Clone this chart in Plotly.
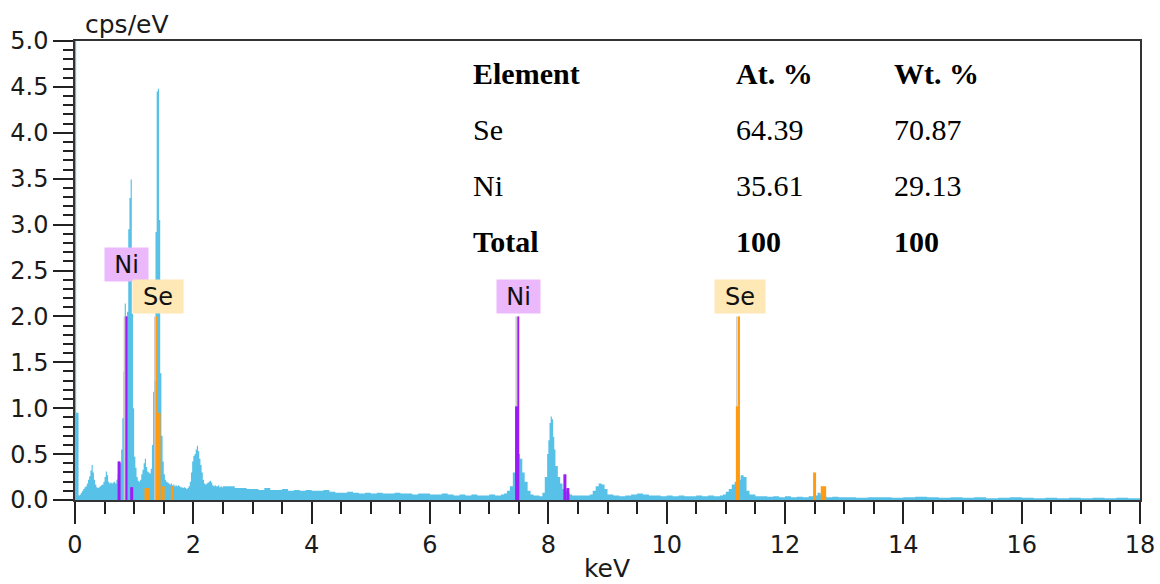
import plotly.graph_objects as go

# ---------------- data ----------------
spectrum_keV = [
    0.00, 0.02, 0.04, 0.06, 0.08, 0.10, 0.12, 0.14, 0.16, 0.18,
    0.20, 0.22, 0.24, 0.26, 0.28, 0.30, 0.32, 0.34, 0.36, 0.38,
    0.40, 0.42, 0.44, 0.46, 0.48, 0.50, 0.52, 0.54, 0.56, 0.58,
    0.60, 0.62, 0.64, 0.66, 0.68, 0.70, 0.72, 0.74, 0.76, 0.78,
    0.80, 0.82, 0.84, 0.86, 0.88, 0.90, 0.92, 0.94, 0.96, 0.98,
    1.00, 1.02, 1.04, 1.06, 1.08, 1.10, 1.12, 1.14, 1.16, 1.18,
    1.20, 1.22, 1.24, 1.26, 1.28, 1.30, 1.32, 1.34, 1.36, 1.38,
    1.40, 1.42, 1.44, 1.46, 1.48, 1.50, 1.52, 1.54, 1.56, 1.58,
    1.60, 1.62, 1.64, 1.66, 1.68, 1.70, 1.72, 1.74, 1.76, 1.78,
    1.80, 1.82, 1.84, 1.86, 1.88, 1.90, 1.92, 1.94, 1.96, 1.98,
    2.00, 2.02, 2.04, 2.06, 2.08, 2.10, 2.12, 2.14, 2.16, 2.18,
    2.20, 2.22, 2.24, 2.26, 2.28, 2.30, 2.32, 2.34, 2.36, 2.38,
    2.40, 2.42, 2.44, 2.46, 2.48, 2.50,
    2.6, 2.7, 2.8, 2.9, 3.0, 3.1, 3.2, 3.3, 3.4, 3.5,
    3.6, 3.7, 3.8, 3.9, 4.0, 4.1, 4.2, 4.3, 4.4, 4.5,
    4.6, 4.7, 4.8, 4.9, 5.0, 5.1, 5.2, 5.3, 5.4, 5.5,
    5.6, 5.7, 5.8, 5.9, 6.0, 6.1, 6.2, 6.3, 6.4, 6.5,
    6.6, 6.7, 6.8, 6.9, 7.0, 7.1, 7.2, 7.25, 7.30, 7.35,
    7.40, 7.44, 7.48, 7.52, 7.56, 7.60, 7.65, 7.70, 7.75, 7.80,
    7.85, 7.90, 7.94, 7.98, 8.00, 8.02, 8.04, 8.06, 8.08, 8.10,
    8.12, 8.16, 8.20, 8.24, 8.28, 8.32, 8.36, 8.40, 8.50, 8.60,
    8.70, 8.75, 8.80, 8.85, 8.90, 8.95, 9.00, 9.1, 9.2, 9.3,
    9.4, 9.5, 9.6, 9.7, 9.8, 9.9, 10.0, 10.1, 10.2, 10.3,
    10.4, 10.5, 10.6, 10.7, 10.8, 10.9, 10.95, 11.00, 11.05, 11.10,
    11.15, 11.20, 11.25, 11.30, 11.35, 11.40, 11.5, 11.6, 11.7, 11.8,
    11.9, 12.0, 12.1, 12.2, 12.3, 12.4, 12.5, 12.55, 12.60, 12.65,
    12.7, 12.8, 12.9, 13.0, 13.2, 13.4, 13.6, 13.8, 14.0, 14.2,
    14.4, 14.6, 14.8, 15.0, 15.2, 15.4, 15.6, 15.8, 16.0, 16.2,
    16.4, 16.6, 16.8, 17.0, 17.2, 17.4, 17.6, 17.8, 18.0,
]
spectrum_cps = [
    5.00, 0.95, 0.95, 0.05, 0.06, 0.08, 0.10, 0.12, 0.14, 0.15,
    0.18, 0.22, 0.26, 0.32, 0.38, 0.30, 0.22, 0.17, 0.14, 0.13,
    0.14, 0.15, 0.16, 0.17, 0.20, 0.25, 0.31, 0.27, 0.20, 0.18,
    0.19, 0.18, 0.19, 0.20, 0.18, 0.22, 0.28, 0.42, 0.40, 0.55,
    0.89, 1.40, 2.14, 2.00, 2.05, 2.95, 3.29, 3.49, 2.03, 1.00,
    0.47, 0.35, 0.25, 0.21, 0.20, 0.22, 0.28, 0.33, 0.40, 0.45,
    0.36, 0.31, 0.30, 0.29, 0.34, 0.60, 1.18, 1.30, 2.92, 4.45,
    4.48, 3.05, 1.38, 0.70, 0.42, 0.28, 0.22, 0.20, 0.19, 0.18,
    0.17, 0.18, 0.16, 0.17, 0.15, 0.16, 0.15, 0.16, 0.15, 0.14,
    0.14, 0.13, 0.14, 0.13, 0.12, 0.13, 0.15, 0.20, 0.30, 0.42,
    0.48, 0.50, 0.55, 0.59, 0.53, 0.45, 0.38, 0.30, 0.22, 0.18,
    0.17, 0.18, 0.19, 0.20, 0.21, 0.19, 0.16, 0.15, 0.16, 0.15,
    0.15, 0.16, 0.14, 0.15, 0.14, 0.15,
    0.15, 0.13, 0.13, 0.12, 0.12, 0.11, 0.13, 0.11, 0.11, 0.12,
    0.10, 0.11, 0.10, 0.11, 0.10, 0.10, 0.11, 0.09, 0.08, 0.08,
    0.09, 0.08, 0.07, 0.08, 0.07, 0.08, 0.07, 0.07, 0.08, 0.07,
    0.07, 0.06, 0.07, 0.07, 0.06, 0.06, 0.07, 0.06, 0.05, 0.06,
    0.05, 0.06, 0.05, 0.05, 0.06, 0.05, 0.06, 0.07, 0.10, 0.15,
    0.30, 0.31, 0.50, 0.45, 0.30, 0.20, 0.10, 0.06, 0.05, 0.05,
    0.04, 0.08, 0.25, 0.50, 0.65, 0.84, 0.91, 0.88, 0.69, 0.55,
    0.37, 0.25, 0.18, 0.12, 0.10, 0.08, 0.06, 0.05, 0.05, 0.05,
    0.06, 0.10, 0.15, 0.18, 0.17, 0.12, 0.06, 0.05, 0.04, 0.05,
    0.06, 0.07, 0.06, 0.05, 0.05, 0.04, 0.05, 0.04, 0.05, 0.04,
    0.04, 0.05, 0.04, 0.05, 0.04, 0.05, 0.06, 0.09, 0.12, 0.17,
    0.20, 0.22, 0.27, 0.25, 0.10, 0.06, 0.04, 0.04, 0.035, 0.04,
    0.03, 0.04, 0.03, 0.035, 0.03, 0.04, 0.05, 0.08, 0.06, 0.04,
    0.03, 0.035, 0.03, 0.03, 0.025, 0.03, 0.03, 0.025, 0.03, 0.035,
    0.03, 0.025, 0.03, 0.025, 0.03, 0.02, 0.025, 0.03, 0.025, 0.02,
    0.025, 0.02, 0.025, 0.02, 0.025, 0.02, 0.025, 0.02, 0.02,
]

# element line markers: (keV, height in cps/eV); "strong" = the 2.0 lines
ni_strong_keV = [0.870, 7.492]
ni_strong_cps = [2.00, 2.00]
ni_weak_keV = [0.745, 0.958, 7.463, 8.280, 8.330]
ni_weak_cps = [0.42, 0.14, 1.02, 0.28, 0.13]

se_strong_keV = [1.385, 11.222]
se_strong_cps = [2.00, 2.00]
se_weak_keV = [1.200, 1.240, 1.420, 1.490, 1.645, 11.195, 12.500, 12.630, 12.670]
se_weak_cps = [0.13, 0.13, 0.95, 0.15, 0.15, 1.02, 0.30, 0.15, 0.15]

# element labels (text, keV, cps/eV)
label_text = ["Ni", "Se", "Ni", "Se"]
label_keV = [0.867, 1.403, 7.492, 11.245]
label_cps = [2.57, 2.215, 2.215, 2.215]

# quantification table
table_header = ["Element", "At. %", "Wt. %"]
table_elements = ["Se", "Ni", "Total"]
table_at = ["64.39", "35.61", "100"]
table_wt = ["70.87", "29.13", "100"]

# ---------------- figure ----------------
BLUE = "#58c1e7"
PURPLE = "#9b1cf7"
ORANGE = "#ff9b12"
GRAY = "#c8c8c8"


def stems(xs, hs):
    """Vertical marker segments from 0 up to each height."""
    sx, sy = [], []
    for x, h in zip(xs, hs):
        sx += [x, x, None]
        sy += [0, h, None]
    return sx, sy


fig = go.Figure()

fig.add_trace(go.Scatter(
    x=spectrum_keV, y=spectrum_cps, mode="lines", line_shape="hv",
    line=dict(width=0, color=BLUE), fill="tozeroy", fillcolor=BLUE,
    hoverinfo="skip", showlegend=False,
))

# faint gray guides next to the strong lines
for xs, hs in [(ni_strong_keV, ni_strong_cps), (se_strong_keV, se_strong_cps)]:
    gx, gy = stems([x - 0.035 for x in xs], hs)
    fig.add_trace(go.Scatter(x=gx, y=gy, mode="lines", line=dict(color=GRAY, width=1.5),
                             hoverinfo="skip", showlegend=False))

for xs, hs, col, w in [
    (ni_weak_keV, ni_weak_cps, PURPLE, 3),
    (se_weak_keV, se_weak_cps, ORANGE, 3),
    (ni_strong_keV, ni_strong_cps, PURPLE, 2),
    (se_strong_keV, se_strong_cps, ORANGE, 2),
]:
    sx, sy = stems(xs, hs)
    fig.add_trace(go.Scatter(x=sx, y=sy, mode="lines", line=dict(color=col, width=w),
                             hoverinfo="skip", showlegend=False))

annotations = []
box_colors = {"Ni": "#ebb8fb", "Se": "#fde8b6"}
box_widths = {"Ni": 43, "Se": 50}
for t, x, y in zip(label_text, label_keV, label_cps):
    annotations.append(dict(
        x=x, y=y, xref="x", yref="y", text=t, showarrow=False,
        xanchor="center", yanchor="middle",
        width=box_widths[t], height=33, bgcolor=box_colors[t], borderpad=0,
        font=dict(family="DejaVu Sans", size=24, color="#111111"),
    ))

# table
col_keV = [6.70, 11.14, 13.81]
row_cps = [4.65, 4.04, 3.43, 2.82]
serif = dict(family="Liberation Serif", size=30, color="#000000")
for j, h in enumerate(table_header):
    annotations.append(dict(x=col_keV[j], y=row_cps[0], xref="x", yref="y",
                            text="<b>%s</b>" % h, showarrow=False,
                            xanchor="left", yanchor="middle", font=serif))
for i in range(len(table_elements)):
    cells = [table_elements[i], table_at[i], table_wt[i]]
    bold = table_elements[i] == "Total"
    for j, c in enumerate(cells):
        annotations.append(dict(x=col_keV[j], y=row_cps[i + 1], xref="x", yref="y",
                                text=("<b>%s</b>" % c) if bold else c, showarrow=False,
                                xanchor="left", yanchor="middle", font=serif))

# axis titles
title_font = dict(family="DejaVu Sans", size=25, color="#1a1a1a")
annotations.append(dict(x=(83 - 75) / 1065, y=(500 - 24) / 459, xref="paper", yref="paper",
                        text="cps/eV", showarrow=False, xanchor="left", yanchor="middle",
                        font=title_font))
annotations.append(dict(x=(607 - 75) / 1065, y=(500 - 568) / 459, xref="paper", yref="paper",
                        text="keV", showarrow=False, xanchor="center", yanchor="middle",
                        font=title_font))

fig.update_layout(
    width=1160, height=584,
    margin=dict(l=75, r=20, t=41, b=84, autoexpand=False),
    paper_bgcolor="white", plot_bgcolor="white",
    font=dict(family="DejaVu Sans", size=24, color="#1a1a1a"),
    annotations=annotations,
)

fig.update_xaxes(
    range=[0, 18], tickmode="linear", tick0=0, dtick=2, automargin=False,
    ticks="outside", ticklen=22, tickwidth=1.5, tickcolor="#222",
    showline=True, linecolor="#333", linewidth=1.5, mirror=True,
    showgrid=False, zeroline=False,
    tickfont=dict(family="DejaVu Sans", size=24, color="#1a1a1a"),
    minor=dict(dtick=0.5, tick0=0, ticks="outside", ticklen=12, tickwidth=1.5, tickcolor="#222", showgrid=False),
)
fig.update_yaxes(
    range=[0, 5.0], tickmode="linear", tick0=0, dtick=0.5, tickformat=".1f", automargin=False,
    ticks="outside", ticklen=20, tickwidth=1.5, tickcolor="#222",
    showline=True, linecolor="#333", linewidth=1.5, mirror=True,
    showgrid=False, zeroline=False,
    tickfont=dict(family="DejaVu Sans", size=24, color="#1a1a1a"),
    minor=dict(dtick=0.1, tick0=0, ticks="outside", ticklen=10, tickwidth=1.5, tickcolor="#222", showgrid=False),
)

fig.write_html(
    "out.html",
    config={"displayModeBar": False},
    post_script="document.body.style.margin='0';document.body.style.overflow='hidden';",
)
